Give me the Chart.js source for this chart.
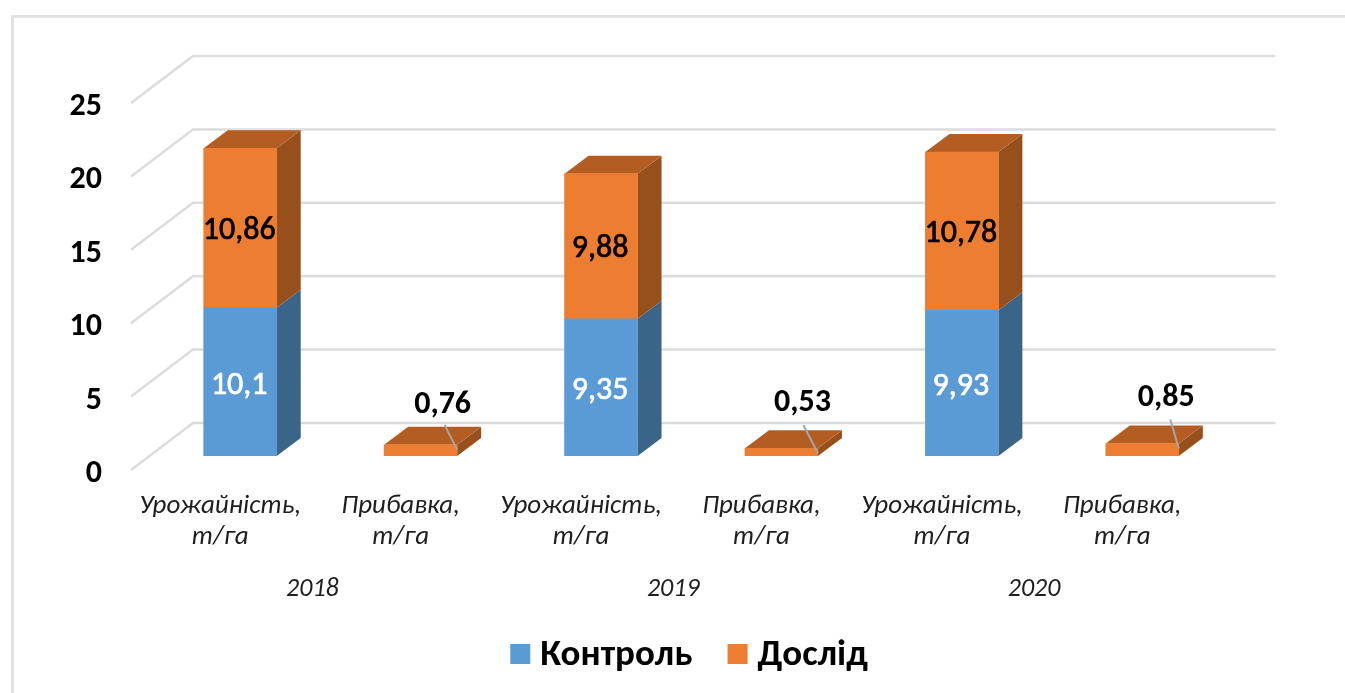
<!DOCTYPE html>
<html>
<head>
<meta charset="utf-8">
<script src="https://cdn.jsdelivr.net/npm/chart.js@4"></script>
<style>
  html, body { margin: 0; padding: 0; background: #fff; overflow: hidden; }
  #frame { position: absolute; left: 11px; top: 15px; width: 1334px; height: 678px;
           border-left: 3px solid #e2e2e2; border-top: 3px solid #e2e2e2; box-sizing: border-box; }
  #chart { position: absolute; left: 0; top: 0; }
</style>
</head>
<body>
<div id="frame"></div>
<canvas id="chart" width="1345" height="693"></canvas>
<script>
const categories = [
  ['Урожайність,', 'т/га'], ['Прибавка,', 'т/га'],
  ['Урожайність,', 'т/га'], ['Прибавка,', 'т/га'],
  ['Урожайність,', 'т/га'], ['Прибавка,', 'т/га'],
];
const years = ['2018', '2019', '2020'];
const control = [10.1, null, 9.35, null, 9.93, null];
const trial = [10.86, 0.76, 9.88, 0.53, 10.78, 0.85];
const yTicks = [0, 5, 10, 15, 20, 25];
const seriesColors = ['#5b9bd5', '#ed7d31'];

const FONT = 'Carlito, Lato, "Open Sans", sans-serif';
const DEPTH_X = 24, DEPTH_Y = -18;      // bar depth
const WALL_X = 43, WALL_Y = -33;        // bar plane to back wall
const FRONT_X = -19, FRONT_Y = 14;      // bar plane to front edge of floor

function face(c, color, pts) {
  c.fillStyle = color;
  c.beginPath();
  pts.forEach((p, i) => (i ? c.lineTo(p[0], p[1]) : c.moveTo(p[0], p[1])));
  c.closePath();
  c.fill();
}

const walls = {
  id: 'walls',
  beforeDatasetsDraw(chart) {
    const c = chart.ctx, y = chart.scales.y, a = chart.chartArea;
    c.save();
    c.strokeStyle = '#dcdcdc';
    c.lineWidth = 2.5;
    yTicks.forEach((t) => {
      const py = y.getPixelForValue(t);
      c.beginPath();
      c.moveTo(a.left + FRONT_X, py + FRONT_Y);
      c.lineTo(a.left + WALL_X, py + WALL_Y);
      c.lineTo(a.right + WALL_X, py + WALL_Y);
      c.stroke();
    });
    const sides = ['#3b6489', '#97501c'];
    chart.data.datasets.forEach((ds, d) => {
      chart.getDatasetMeta(d).data.forEach((el, i) => {
        if (ds.data[i] == null) return;
        const r = el.x + el.width / 2, l = el.x - el.width / 2;
        face(c, sides[d], [[r, el.y], [r + DEPTH_X, el.y + DEPTH_Y], [r + DEPTH_X, el.base + DEPTH_Y], [r, el.base]]);
        if (d === 1) {
          face(c, '#b35d22', [[l, el.y], [l + DEPTH_X, el.y + DEPTH_Y], [r + DEPTH_X, el.y + DEPTH_Y], [r, el.y]]);
        }
      });
    });
    c.restore();
  },
};

// the labels of the flat bars sit off the bar, with a leader line
const leaders = { 1: [22, -40, 2, 20], 3: [21, -45, 1, 22], 5: [24, -46, 4, 22] };

const barLabels = {
  id: 'barLabels',
  afterDatasetsDraw(chart) {
    const c = chart.ctx;
    c.save();
    c.textAlign = 'center';
    c.textBaseline = 'middle';
    c.lineJoin = 'round';
    chart.data.datasets.forEach((ds, d) => {
      chart.getDatasetMeta(d).data.forEach((el, i) => {
        if (ds.data[i] == null) return;
        const text = String(ds.data[i]).replace('.', ',');
        const lead = leaders[i];
        c.font = (lead ? 'bold ' : '') + '32px ' + FONT;
        c.fillStyle = d === 0 ? '#fff' : '#000';
        if (lead) {
          const lx = el.x + lead[0], ly = el.y + lead[1];
          c.strokeStyle = '#a6a6a6';
          c.lineWidth = 2;
          c.beginPath();
          c.moveTo(lx + lead[2], ly + lead[3]);
          c.lineTo(el.x + el.width / 2, el.y + 5);
          c.stroke();
          c.fillText(text, lx, ly);
        } else {
          const lx = el.x - 1;
          const ly = (el.y + el.base) / 2 + (d === 0 ? 4 : 3);
          c.strokeStyle = c.fillStyle;
          c.lineWidth = 0.7;
          c.strokeText(text, lx, ly);
          c.fillText(text, lx, ly);
        }
      });
    });
    c.restore();
  },
};

// legend swatches sit closer to their text than Chart.js allows, so they are drawn here
const SWATCH = 20, SWATCH_INSET = 25;
const legendSwatches = {
  id: 'legendSwatches',
  afterDraw(chart) {
    const c = chart.ctx;
    chart.legend.legendHitBoxes.forEach((box, i) => {
      c.fillStyle = seriesColors[i];
      c.fillRect(box.left + SWATCH_INSET, box.top + box.height / 2 - SWATCH / 2 - 1.5, SWATCH, SWATCH);
    });
  },
};

new Chart(document.getElementById('chart'), {
  type: 'bar',
  data: {
    labels: categories,
    datasets: [
      { label: 'Контроль', data: control, backgroundColor: seriesColors[0], barThickness: 73, borderWidth: 0 },
      { label: 'Дослід', data: trial, backgroundColor: seriesColors[1], barThickness: 73, borderWidth: 0 },
    ],
  },
  plugins: [walls, barLabels, legendSwatches],
  options: {
    responsive: false,
    animation: false,
    layout: { padding: { left: 8, right: 0, top: 89, bottom: 9 } },
    plugins: {
      tooltip: { enabled: false },
      legend: {
        position: 'bottom',
        onClick: null,
        labels: {
          boxWidth: 36.5, boxHeight: 20, padding: 10, color: '#000',
          font: { family: FONT, size: 37, weight: 'bold' },
          generateLabels: (chart) => Chart.defaults.plugins.legend.labels.generateLabels(chart)
            .map((item) => ({ ...item, fillStyle: 'transparent', strokeStyle: 'transparent' })),
        },
      },
    },
    scales: {
      x: {
        stacked: true,
        weight: 1,
        grid: { display: false, drawTicks: false },
        border: { display: false },
        afterFit: (s) => { s.height = 100; },
        ticks: {
          padding: 35, labelOffset: FRONT_X - 1, maxRotation: 0, autoSkip: false, color: '#1f1f1f',
          font: { family: FONT, size: 27, style: 'italic', lineHeight: '31px' },
        },
      },
      xYears: {
        type: 'category',
        labels: years,
        position: 'bottom',
        weight: 2,
        grid: { display: false, drawTicks: false },
        border: { display: false },
        afterFit: (s) => { s.height = 71; },
        ticks: {
          padding: 18, labelOffset: -18, maxRotation: 0, color: '#1f1f1f',
          font: { family: FONT, size: 26, style: 'italic', lineHeight: '31px' },
        },
      },
      y: {
        stacked: true,
        min: 0, max: 25,
        grid: { display: false, drawTicks: false },
        border: { display: false },
        afterFit: (s) => { s.width = 142; },
        afterBuildTicks: (s) => { s.ticks = yTicks.map((value) => ({ value })); },
        ticks: {
          padding: 48, labelOffset: FRONT_Y + 4, color: '#000',
          font: { family: FONT, size: 32, weight: 'bold' },
        },
      },
      yRight: {
        position: 'right',
        grid: { display: false, drawTicks: false },
        border: { display: false },
        ticks: { display: false },
        afterFit: (s) => { s.width = 112.5; },
      },
    },
  },
});
</script>
</body>
</html>
